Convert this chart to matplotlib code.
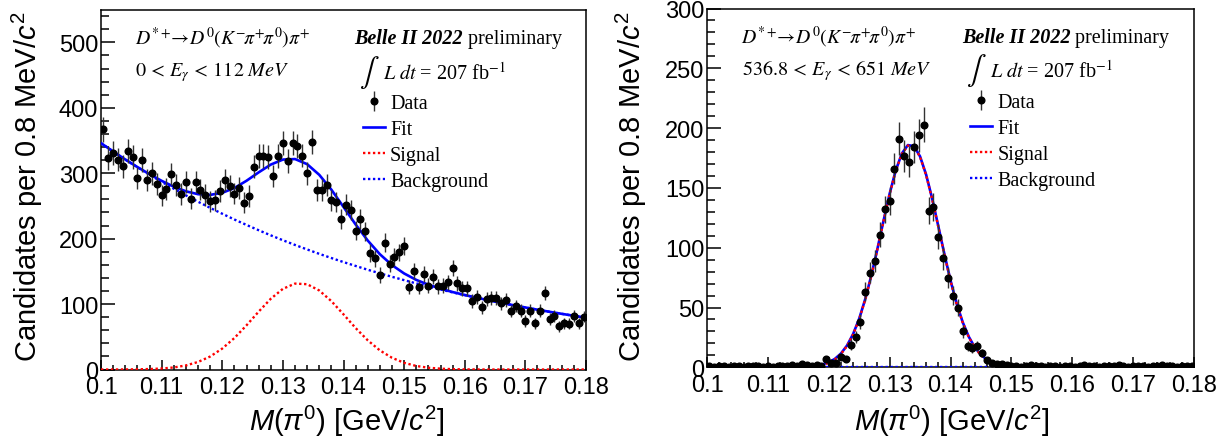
import numpy as np
import matplotlib
matplotlib.use("Agg")
import matplotlib.pyplot as plt
from matplotlib.ticker import MultipleLocator, FuncFormatter

# ---------------- data ----------------
bin_low, bin_high, n_bins = 0.1, 0.18, 100   # 0.8 MeV bins

left_counts = [367, 323, 331, 321, 311, 334, 325, 293, 320, 290,
               300, 283, 266, 276, 299, 282, 268, 286, 261, 286,
               275, 267, 257, 259, 273, 290, 281, 269, 278, 255,
               265, 310, 326, 326, 325, 296, 326, 346, 319, 346,
               342, 327, 300, 348, 274, 274, 282, 259, 256, 230,
               252, 244, 212, 230, 211, 178, 170, 144, 194, 162,
               172, 179, 189, 126, 150, 126, 146, 128, 142, 127,
               128, 133, 155, 132, 124, 124, 105, 111, 95, 108,
               109, 109, 101, 106, 89, 97, 90, 74, 90, 71,
               90, 117, 77, 82, 66, 71, 70, 82, 71, 81]

right_counts = [1, 0, 1, 1, 0, 1, 1, 0, 1, 1,
                1, 0, 1, 0, 1, 1, 1, 2, 1, 3,
                2, 1, 2, 1, 7, 4, 4, 9, 7, 19,
                25, 38, 63, 79, 89, 111, 132, 139, 166, 191,
                177, 172, 184, 194, 203, 131, 134, 109, 91, 75,
                60, 50, 30, 18, 16, 18, 12, 6, 4, 3,
                3, 2, 1, 1, 0, 1, 2, 1, 1, 0,
                1, 1, 0, 1, 1, 0, 1, 2, 1, 1,
                0, 1, 1, 1, 2, 1, 0, 1, 1, 1,
                0, 1, 1, 2, 1, 1, 0, 1, 1, 1]

# fit curves (left: every 2 MeV, right: every 1 MeV)
left_curve_x = np.round(0.100 + 0.002 * np.arange(41), 3)
left_fit = [346.0, 333.3, 321.1, 309.5, 298.5, 288.4, 279.5, 272.4, 268.0, 266.9,
            270.1, 277.4, 288.5, 301.3, 313.2, 320.9, 321.7, 313.9, 297.6, 274.9,
            248.5, 221.7, 197.1, 176.2, 159.6, 146.8, 137.0, 129.6, 123.6, 118.4,
            113.9, 109.7, 105.7, 102.0, 98.3, 94.8, 91.4, 88.2, 85.1, 82.1, 79.2]
left_signal = [0.0, 0.0, 0.1, 0.3, 0.7, 1.5, 3.1, 6.2, 11.5, 19.8,
               32.0, 48.1, 67.5, 88.4, 108.1, 123.3, 131.3, 130.4, 120.8, 104.5,
               84.3, 63.4, 44.6, 29.2, 17.9, 10.2, 5.4, 2.7, 1.3, 0.5,
               0.2, 0.1, 0.0, 0.0, 0.0, 0.0, 0.0, 0.0, 0.0, 0.0, 0.0]
left_background = [346.0, 333.3, 321.0, 309.2, 297.8, 286.9, 276.4, 266.2, 256.5, 247.1,
                   238.1, 229.3, 221.0, 212.9, 205.1, 197.6, 190.4, 183.5, 176.8, 170.4,
                   164.2, 158.3, 152.5, 147.0, 141.7, 136.6, 131.6, 126.9, 122.3, 117.9,
                   113.7, 109.6, 105.7, 102.0, 98.3, 94.8, 91.4, 88.2, 85.1, 82.1, 79.2]

right_curve_x = np.round(0.100 + 0.001 * np.arange(81), 3)
right_fit = [0.4] * 13 + [0.42, 0.45, 0.52, 0.66, 0.94, 1.48, 2.47, 4.18, 7.01, 11.5,
             18.2, 27.8, 40.6, 57.1, 76.9, 99.2, 122.6, 145.1, 164.5, 178.7,
             185.8, 184.9, 176.3, 161.0, 140.8, 117.9, 94.6, 72.7, 53.5, 37.8,
             25.6, 16.6, 10.4, 6.33, 3.76, 2.22, 1.35, 0.87, 0.62, 0.50,
             0.44, 0.41] + [0.4] * 26
right_signal = [0.0] * 13 + [0.02, 0.05, 0.12, 0.26, 0.54, 1.08, 2.07, 3.78, 6.61, 11.1,
                17.8, 27.4, 40.2, 56.7, 76.5, 98.8, 122.2, 144.7, 164.1, 178.3,
                185.4, 184.5, 175.9, 160.6, 140.4, 117.5, 94.2, 72.3, 53.1, 37.4,
                25.2, 16.2, 10.0, 5.93, 3.36, 1.82, 0.95, 0.47, 0.22, 0.10,
                0.04, 0.01] + [0.0] * 26
right_background_x = [0.100, 0.180]
right_background = [0.4, 0.4]

x_ticks = [0.10, 0.11, 0.12, 0.13, 0.14, 0.15, 0.16, 0.17, 0.18]
decay_label = r"$D^{*+}\!\!\rightarrow\! D^{0}(K^{-}\!\pi^{+}\!\pi^{0})\pi^{+}$"
left_range_label = r"$\mathit{0}\,<\,E_{\gamma}\,<\,\mathit{112\ MeV}$"
right_range_label = r"$\mathit{536.8}\,<\,E_{\gamma}\,<\,\mathit{651\ MeV}$"
y_title = r"Candidates per 0.8 MeV/$c^{2}$"
x_title = r"$\mathit{M(}\pi^{\mathit{0}}\mathit{)}$ [GeV/$c^{2}$]"

# ---------------- style ----------------
plt.rcParams.update({
    "font.family": ["Liberation Sans", "DejaVu Sans"],
    "mathtext.fontset": "custom",
    "mathtext.rm": "Liberation Sans",
    "mathtext.it": "Liberation Sans:italic",
    "mathtext.bf": "Liberation Sans:bold",
})
SERIF = ["Liberation Serif", "DejaVu Serif"]
TXT = 14.5

W, H = 1228, 439
fig = plt.figure(figsize=(W / 100, H / 100), dpi=100)
axL = fig.add_axes([101 / W, (H - 370.5) / H, 485 / W, 359.8 / H])
axR = fig.add_axes([707 / W, (H - 368.3) / H, 487 / W, 358.8 / H])


def draw_panel(ax, counts, cx, fit, sig, bx, bkg, ymax, ymaj, ymin, range_label):
    edges = np.linspace(bin_low, bin_high, n_bins + 1)
    centers = 0.5 * (edges[1:] + edges[:-1])
    counts = np.asarray(counts, dtype=float)

    l_fit, = ax.plot(cx, fit, color="#0000ff", lw=1.9, zorder=3)
    l_sig, = ax.plot(cx, sig, color="#ff0000", lw=1.7, ls=(0, (1, 1.1)), zorder=4)
    l_bkg, = ax.plot(bx, bkg, color="#0000ff", lw=1.7, ls=(0, (1, 1.1)), zorder=4)
    eb = ax.errorbar(centers, counts, yerr=np.sqrt(counts), fmt="o", color="black",
                     ms=4.8, ecolor="#333333", elinewidth=1.0, capsize=0, zorder=5)

    ax.set_xlim(bin_low, bin_high)
    ax.set_ylim(0, ymax)
    ax.set_xticks(x_ticks)
    ax.xaxis.set_major_formatter(FuncFormatter(lambda v, p: "%g" % round(v, 3)))
    ax.xaxis.set_minor_locator(MultipleLocator(0.002))
    ax.yaxis.set_major_locator(MultipleLocator(ymaj))
    ax.yaxis.set_minor_locator(MultipleLocator(ymin))
    ax.tick_params(which="both", direction="in", top=False, right=False,
                   labelsize=17, width=1.1)
    ax.tick_params(axis="x", which="major", length=7.2, pad=5)
    ax.tick_params(axis="x", which="minor", length=3.6)
    ax.tick_params(axis="y", which="major", length=10.3, pad=2)
    ax.tick_params(axis="y", which="minor", length=5.5)
    for s in ax.spines.values():
        s.set_linewidth(1.1)

    # texts
    ax.text(0.070, 0.905, decay_label, transform=ax.transAxes, fontsize=14.2,
            math_fontfamily="stix", va="baseline", ha="left")
    ax.text(0.071, 0.818, range_label, transform=ax.transAxes, fontsize=TXT,
            math_fontfamily="stix", va="baseline", ha="left")
    t1 = ax.text(0.523, 0.908, "Belle II 2022", transform=ax.transAxes, fontsize=TXT,
                 family=SERIF, weight="bold", style="italic", va="baseline", ha="left")
    ax.annotate(" preliminary", xy=(1, 0), xycoords=t1, fontsize=TXT,
                family=SERIF, va="bottom", ha="left")
    ax.text(0.531, 0.829, r"$\int$", transform=ax.transAxes, fontsize=21,
            math_fontfamily="stix", va="center", ha="left")
    ax.text(0.582, 0.810, r"$L\ dt$ = 207 fb$^{-1}$", transform=ax.transAxes,
            fontsize=TXT, family=SERIF, math_fontfamily="stix", va="baseline", ha="left")

    ax.legend([eb, l_fit, l_sig, l_bkg], ["Data", "Fit", "Signal", "Background"],
              loc="upper left", bbox_to_anchor=(0.540, 0.765), frameon=False,
              prop={"family": SERIF, "size": TXT}, handlelength=1.1,
              handletextpad=0.25, labelspacing=0.34, borderpad=0, borderaxespad=0)


draw_panel(axL, left_counts, left_curve_x, left_fit, left_signal,
           left_curve_x, left_background, 550, 100, 20, left_range_label)
draw_panel(axR, right_counts, right_curve_x, right_fit, right_signal,
           right_background_x, right_background, 300, 50, 10, right_range_label)

for xc in (27, 631):
    fig.text(xc / W, (H - 187) / H, y_title, rotation=90, ha="center", va="center",
             fontsize=21)
for xc in (346.6, 951.6):
    fig.text(xc / W, (H - 421) / H, x_title, ha="center", va="center", fontsize=21)

fig.savefig("out.png", dpi=100)
